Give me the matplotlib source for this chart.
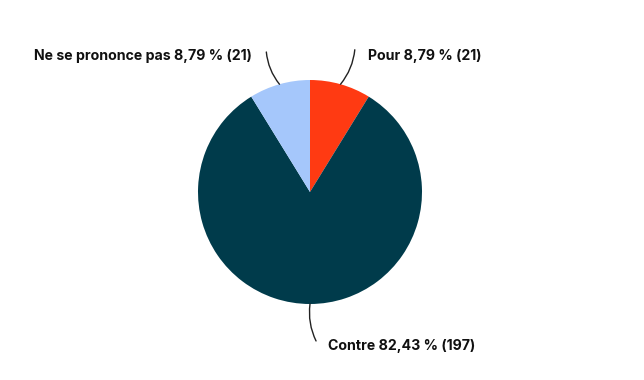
import numpy as np
import matplotlib
matplotlib.use("Agg")
import matplotlib.pyplot as plt

categories = ["Pour", "Contre", "Ne se prononce pas"]
percents = [8.79, 82.43, 8.79]
counts = [21, 197, 21]
colors = ["#ff3a12", "#003b4b", "#a5c7fb"]

W, H = 644, 380
fig = plt.figure(figsize=(W / 100, H / 100), dpi=100)
cx, cy, r = 310, 192, 112
ax = fig.add_axes([(cx - r) / W, (H - cy - r) / H, 2 * r / W, 2 * r / H])
wedges, _ = ax.pie(counts, colors=colors, startangle=90, counterclock=False,
                   radius=1, wedgeprops=dict(linewidth=0))
ax.set_xlim(-1, 1)
ax.set_ylim(-1, 1)
ax.set_aspect("equal")
ax.axis("off")

font = dict(family=["Inter", "DejaVu Sans"], fontweight="bold", fontsize=10.2, color="#111111")

# label layout: (line end, text pos, ha, rad)
layout = {
    "Pour": ((0.40, 1.27), (0.518, 1.214), "left", 0.15),
    "Ne se prononce pas": ((-0.39, 1.25), (-0.518, 1.214), "right", -0.15),
    "Contre": ((0.054, -1.33), (0.161, -1.375), "left", 0.15),
}
for w, cat, p, n in zip(wedges, categories, percents, counts):
    ang = np.deg2rad((w.theta1 + w.theta2) / 2)
    edge = (np.cos(ang), np.sin(ang))
    end, tpos, ha, rad = layout[cat]
    ax.annotate("", xy=end, xytext=edge, annotation_clip=False,
                arrowprops=dict(arrowstyle="-", color="#222222", lw=1,
                                shrinkA=0, shrinkB=0,
                                connectionstyle=f"arc3,rad={rad}"))
    label = f"{cat} {str(p).replace('.', ',')} % ({n})"
    ax.text(tpos[0], tpos[1], label, ha=ha, va="center", clip_on=False, **font)

fig.savefig("out.png", dpi=100)
